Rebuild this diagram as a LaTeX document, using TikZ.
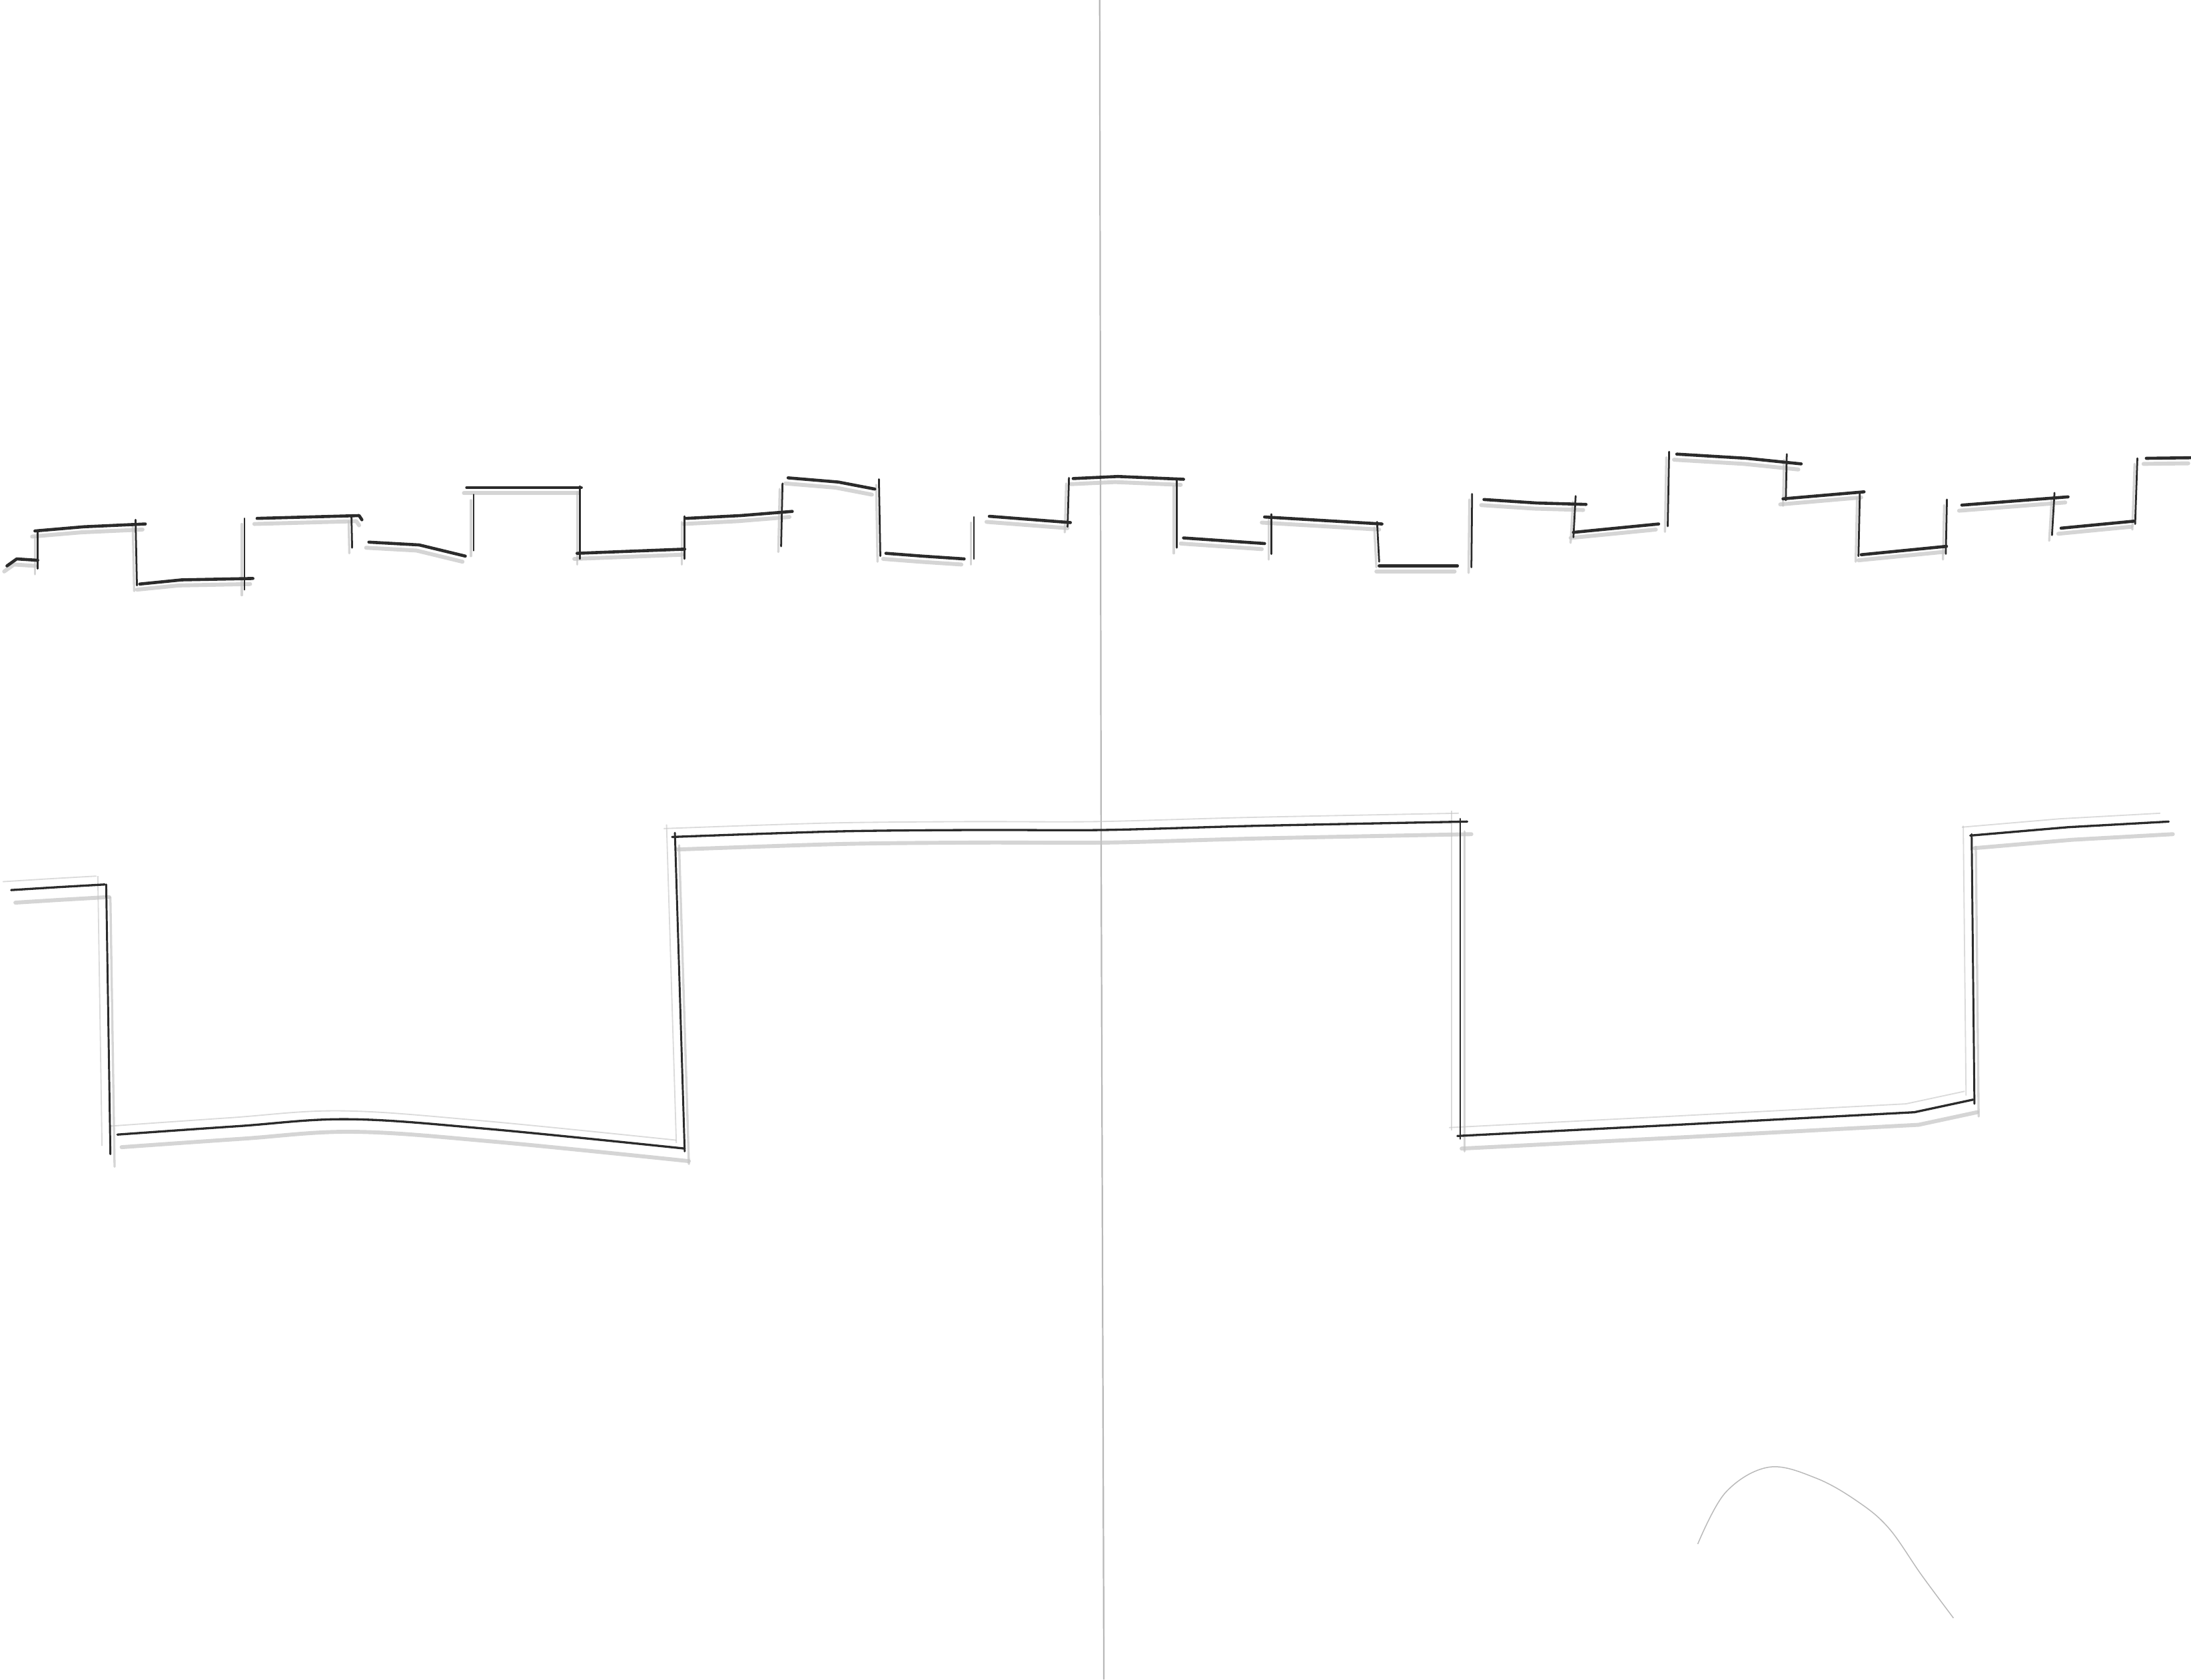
\documentclass[tikz,border=0pt]{standalone}
\usetikzlibrary{calc}
\definecolor{ink}{HTML}{2B2B2B}
\definecolor{pencil}{HTML}{C4C4C4}
\definecolor{fold}{HTML}{B8B8B8}
\tikzset{
  inkh/.style={draw=ink,line width=1.25pt,line cap=round,line join=round},
  inkv/.style={draw=ink,line width=0.75pt,line cap=round},
  lowh/.style={draw=ink,line width=0.9pt,line cap=round,line join=round},
  lowv/.style={draw=ink,line width=0.8pt,line cap=round},
  shade/.style={draw=pencil,line width=1.6pt,line cap=round,line join=round,opacity=0.7},
  shadev/.style={draw=pencil,line width=0.9pt,line cap=round,opacity=0.7},
}
% upper (fast) waveform: #1 horizontal style, #2 vertical style
\newcommand\upperwave[2]{%
  \draw[#1] (5,405) -- (12,400) -- (27,401);
  \draw[#1] (25,380) -- (60,377) -- (104,375);
  \draw[#1] (100,418) -- (130,415) -- (181,414);
  \draw[#1] (184,371) -- (257,369) -- (259,372);
  \draw[#1] (264,388) -- (300,390) -- (333,398);
  \draw[#1] (334,349) -- (416,349);
  \draw[#1] (413,396) -- (490,393);
  \draw[#1] (491,371) -- (530,369) -- (567,366);
  \draw[#1] (564,342) -- (600,345) -- (626,350);
  \draw[#1] (634,396) -- (660,398) -- (690,400);
  \draw[#1] (708,369.5) -- (766,374);
  \draw[#1] (768,342.5) -- (800,341) -- (847,343);
  \draw[#1] (847,385) -- (905,389);
  \draw[#1] (905,370) -- (989,375);
  \draw[#1] (987,405) -- (1043,405);
  \draw[#1] (1062,357.5) -- (1100,360) -- (1135,361);
  \draw[#1] (1126,381) -- (1187,375);
  \draw[#1] (1200,325) -- (1250,328) -- (1289,332);
  \draw[#1] (1276,357) -- (1334,352);
  \draw[#1] (1332,397) -- (1393,391);
  \draw[#1] (1404,361.5) -- (1480,355.6);
  \draw[#1] (1475,378) -- (1527,373);
  \draw[#1] (1536,328) -- (1568,327.6);
  \draw[#2] (27,407) -- (27,380);
  \draw[#2] (97,372) -- (98,419);
  \draw[#2] (175,371) -- (175,422);
  \draw[#2] (251.5,369) -- (252,392);
  \draw[#2] (339,354) -- (339,394);
  \draw[#2] (415,348) -- (415,400);
  \draw[#2] (490,369.5) -- (490,400);
  \draw[#2] (560,346) -- (559,391);
  \draw[#2] (629,343) -- (630,398);
  \draw[#2] (697,370) -- (697,400);
  \draw[#2] (765,342) -- (764,377);
  \draw[#2] (842,344) -- (842,392);
  \draw[#2] (910,368) -- (910,396.5);
  \draw[#2] (985.5,373.5) -- (987,402);
  \draw[#2] (1053.5,353.5) -- (1053,406);
  \draw[#2] (1127.6,355) -- (1126,384.5);
  \draw[#2] (1194.5,323.3) -- (1193.5,376.6);
  \draw[#2] (1278.7,325) -- (1278,358);
  \draw[#2] (1331,352) -- (1330,398);
  \draw[#2] (1393.3,357.5) -- (1392.5,396.4);
  \draw[#2] (1470.3,352.7) -- (1468.5,383);
  \draw[#2] (1529.6,328) -- (1528,375);
}
% lower (slow) waveform
\newcommand\lowerwave[2]{%
  \draw[#1] (8,637) -- (40,635) -- (75,633);
  \draw[#2] (76,633) -- (79,826);
  \draw[#1] plot[smooth,tension=0.6] coordinates {(84,812) (170,806) (250,801) (350,808) (490,822)};
  \draw[#2] (490,824) -- (483,596);
  \draw[#1] plot[smooth,tension=0.5] coordinates {(481,599) (600,595) (700,594) (790,594) (900,591) (1050,588)};
  \draw[#2] (1045,586) -- (1045,815);
  \draw[#1] (1043,813) -- (1200,805) -- (1370,796) -- (1412,787);
  \draw[#2] (1413,790) -- (1411,597);
  \draw[#1] (1410,598) -- (1480,592) -- (1552,588);
}
\begin{document}
\begin{tikzpicture}[x=0.02cm,y=-0.02cm]
  \useasboundingbox[fill=white] (0,0) rectangle (1568,1202);
  % fold line of the paper
  \draw[fold,line width=0.6pt] (787,0) -- (788,600) -- (790,1202);
  % faint pencil under-drawing
  \begin{scope}[shift={(-2,4)}]
    \upperwave{shade}{shadev}
  \end{scope}
  \begin{scope}[shift={(3,9)}]
    \lowerwave{shade}{shadev}
  \end{scope}
  \begin{scope}[shift={(-6,-6)}]
    \lowerwave{draw=pencil,line width=0.5pt,opacity=0.6}{draw=pencil,line width=0.5pt,opacity=0.6}
  \end{scope}
  % inked lines
  \upperwave{inkh}{inkv}
  \lowerwave{lowh}{lowv}
  % faint arc bottom right
  \draw[gray!55,line width=0.4pt] plot[smooth,tension=0.6] coordinates
    {(1215,1105) (1235,1068) (1266,1050) (1300,1058) (1330,1075) (1352,1094) (1375,1127) (1398,1158)};
\end{tikzpicture}
\end{document}
